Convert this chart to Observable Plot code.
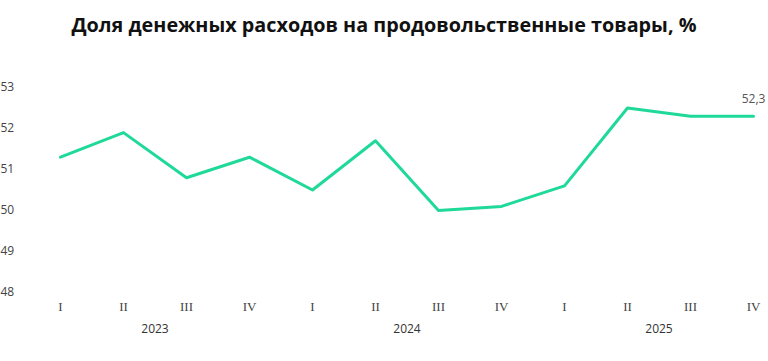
<!DOCTYPE html>
<html><head><meta charset="utf-8">
<script src="https://cdn.jsdelivr.net/npm/d3@7"></script>
<script src="https://cdn.jsdelivr.net/npm/@observablehq/plot@0.6"></script>
<style>
body{margin:0;background:#fff;}
#title{height:45px;line-height:50px;text-align:center;font-family:"Open Sans",sans-serif;font-weight:700;font-size:19.8px;color:#111;}
</style>
</head><body>
<div id="title">Доля денежных расходов на продовольственные товары, %</div>
<div id="chart"></div>
<script>
const years = ["2023","2023","2023","2023","2024","2024","2024","2024","2025","2025","2025","2025"];
const quarters = ["I","II","III","IV","I","II","III","IV","I","II","III","IV"];
const values = [51.3, 51.9, 50.8, 51.3, 50.5, 51.7, 50.0, 50.1, 50.6, 52.5, 52.3, 52.3];
const yTicks = [48, 49, 50, 51, 52, 53];

const data = values.map((v, i) => ({i, year: years[i], q: quarters[i], v}));
const yearGroups = d3.rollups(data, g => d3.mean(g, d => d.i), d => d.year).map(([year, i]) => ({year, i}));
const last = data[data.length - 1];

const chart = Plot.plot({
  width: 768,
  height: 316,
  marginLeft: 60,
  marginRight: 15,
  marginTop: 42,
  marginBottom: 69,
  x: {type: "linear", domain: [0, data.length - 1]},
  y: {domain: [48, 53]},
  marks: [
    Plot.axisY({ticks: yTicks, tickFormat: d => String(d), tickSize: 0, tickPadding: 0, textAnchor: "start", dx: -60, fontSize: 12, fill: "#444", fontFamily: "Open Sans, sans-serif", label: null}),
    Plot.axisX({ticks: data.map(d => d.i), tickFormat: i => quarters[i], tickSize: 0, tickPadding: 9, fontSize: 13, fill: "#444", fontFamily: "Liberation Serif, serif", label: null}),
    Plot.text(yearGroups, {x: "i", text: "year", frameAnchor: "bottom", dy: 40, fontSize: 12, fill: "#333", fontFamily: "Open Sans, sans-serif"}),
    Plot.line(data, {x: "i", y: "v", stroke: "#1fd999", strokeWidth: 3, curve: "linear"}),
    Plot.text([last], {x: "i", y: "v", text: d => String(d.v).replace(".", ","), dy: -17, fontSize: 12, fill: "#555", fontFamily: "Open Sans, sans-serif"})
  ]
});
document.getElementById("chart").appendChild(chart);
</script>
</body></html>
